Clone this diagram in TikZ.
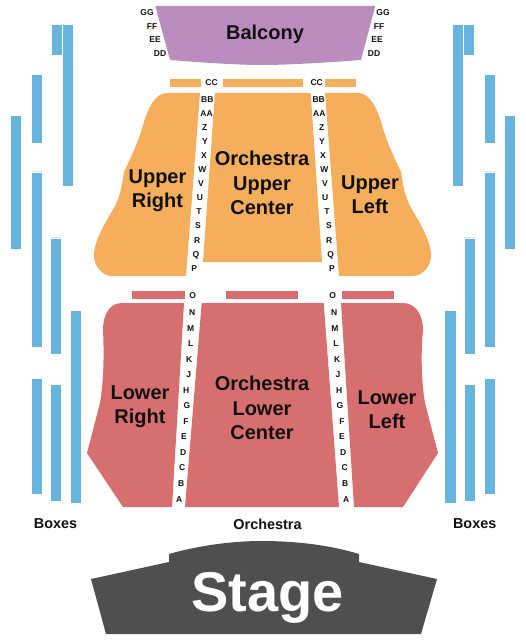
\documentclass[tikz,border=0pt]{standalone}
\usepackage{fontspec}
\setmainfont{Liberation Sans}
\usepackage{xcolor}
\definecolor{balconypurple}{RGB}{187, 141, 191}
\definecolor{upperorange}{RGB}{245, 174, 92}
\definecolor{lowerred}{RGB}{216, 111, 111}
\definecolor{boxblue}{RGB}{103, 181, 222}
\definecolor{boxpale}{RGB}{215, 232, 243}
\definecolor{stagegray}{RGB}{79, 79, 79}
\definecolor{labelblack}{RGB}{17, 17, 17}

\begin{document}
\begin{tikzpicture}[
  x=1pt, y=-1pt,
  section/.style={align=center, inner sep=0pt, text=labelblack,
                  font=\fontsize{20}{24.4}\selectfont\bfseries},
  rowlabel/.style={inner sep=0pt, text=labelblack,
                   font=\fontsize{8.5}{10}\selectfont\bfseries},
  caption/.style={inner sep=0pt, text=labelblack,
                  font=\fontsize{14.4}{17}\selectfont\bfseries}
]
\useasboundingbox (0,0) rectangle (525,644);

% boxes
\foreach \xa/\xb/\ya/\yb in {52/62/25/55, 63/73/25/186, 32/42/75/143, 11/21/116/249,
    32/42/173/347, 51/61/239/354, 71/81/311/503, 32/42/379/494, 51/61/385/501,
    453/463/25/186, 464/474/25/55, 485/495/75/143, 505/515/116/249,
    485/495/173/347, 465/475/239/354, 445/456/311/503, 485/495/379/494, 465/475/385/501}
  \fill[boxblue] (\xa,\ya) rectangle (\xb,\yb);
\foreach \xa/\xb/\ya in {31/42/171, 50/61/237, 484/495/171, 464/475/237}
  \fill[boxpale] (\xa,\ya) rectangle (\xb,\ya+1);

% balcony
\fill[balconypurple] (155.3,6) -- (375.3,6) -- (361,60)
  .. controls (335,62) and (290,65) .. (262,65)
  .. controls (235,65) and (195,62) .. (170,60) -- cycle;

% upper level
\fill[upperorange] (170,79) rectangle (201,87);
\fill[upperorange] (223,79) rectangle (303,87);
\fill[upperorange] (325,79) rectangle (356,87);
\fill[upperorange] (200,93) -- (167,93)
  .. controls (155,93) and (148,108) .. (143,125)
  .. controls (139,140) and (132,155) .. (124,172)
  .. controls (122,185) and (121,192) .. (116,204)
  .. controls (110,216) and (94,238) .. (94,255)
  .. controls (94,266) and (102,276) .. (112,276)
  -- (186,276) -- cycle;
\fill[upperorange] (215,93) -- (310.7,93) -- (322,262) -- (203,262) -- cycle;
\fill[upperorange] (325,93) -- (358,93)
  .. controls (370,93) and (377,108) .. (382,125)
  .. controls (386,140) and (393,155) .. (401,172)
  .. controls (403,185) and (404,192) .. (409,204)
  .. controls (415,216) and (431,238) .. (431,255)
  .. controls (431,266) and (423,276) .. (413,276)
  -- (339,276) -- cycle;

% lower level
\fill[lowerred] (132,291) rectangle (185,299);
\fill[lowerred] (226,291) rectangle (298,299);
\fill[lowerred] (342,291) rectangle (394,299);
\fill[lowerred] (184,303) -- (122,303)
  .. controls (110,303) and (103,314) .. (103,330)
  .. controls (104,350) and (104,380) .. (100,403)
  -- (87,453) -- (123,507) -- (172,507) -- cycle;
\fill[lowerred] (201.7,303) -- (323.7,303) -- (339,507) -- (185,507) -- cycle;
\fill[lowerred] (341,303) -- (403,303)
  .. controls (415,303) and (423,314) .. (423,330)
  .. controls (421,350) and (421,380) .. (425,403)
  -- (438,453) -- (403,507) -- (354,507) -- cycle;

% stage
\fill[stagegray] (91,579) -- (106,634) -- (421,634) -- (437,579) -- (359,562) -- (359,554)
  .. controls (330,545) and (295,541) .. (262,541)
  .. controls (230,541) and (197,546) .. (169,554)
  -- (169,562) -- cycle;

% section labels
\node[section] (balcony) at (265,34) {Balcony};
\node[section] (upperright) at (157.5,191) {Upper\\Right};
\node[section] (uppercenter) at (262,183) {Orchestra\\Upper\\Center};
\node[section] (upperleft) at (370,195) {Upper\\Left};
\node[section] (lowerright) at (140,407) {Lower\\Right};
\node[section] (lowercenter) at (262,408) {Orchestra\\Lower\\Center};
\node[section] (lowerleft) at (387,410) {Lower\\Left};
\node[caption] (boxesleft) at (55.5,524) {Boxes};
\node[caption] (orchestra) at (267.5,524) {Orchestra};
\node[caption] (boxesright) at (474.7,524) {Boxes};
\node[inner sep=0pt, text=white, font=\fontsize{56}{60}\selectfont\bfseries] (stage) at (267.5,598) {Stage};

% row labels
\foreach \row/\xa/\xb/\ya in {GG/147/383/13, FF/152/379/27, EE/155/377/40, DD/160/374/54,
    CC/211.5/316.7/83, BB/207.3/318.7/100, AA/206.5/319.3/114, Z/204.7/321.7/128,
    Y/205/322/142, X/204/323/156, W/202.3/324.3/170, V/201/325/184, U/200/325.3/198,
    T/199/327/212, S/198/329/226, R/197.3/329.3/241, Q/196/330.7/255, P/194.3/332/269,
    O/192.7/332.7/296, N/192.3/334.3/313, M/190.7/335/329, L/190.7/336/344,
    K/189.3/337.3/360, J/188.7/338/375, H/186.3/339.3/391, G/187/340/406, F/186/342/422,
    E/184/342/437, D/183.3/343.3/453, C/182.3/344.7/468, B/181.3/345.3/484, A/179.3/346.3/500} {
  \node[rowlabel] (left\row) at (\xa,\ya) {\row};
  \node[rowlabel] (right\row) at (\xb,\ya) {\row};
}
\end{tikzpicture}
\end{document}
